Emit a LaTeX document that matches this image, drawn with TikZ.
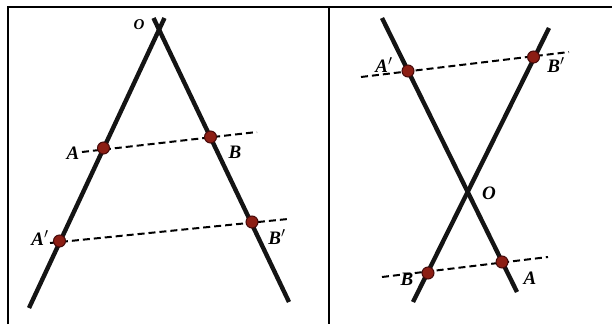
\documentclass[tikz,border=0pt]{standalone}
\usepackage{fontspec}
\setmainfont{Liberation Serif}
\definecolor{ptfill}{RGB}{140,30,20}
\definecolor{ptdraw}{RGB}{70,10,10}
\begin{document}
\begin{tikzpicture}[x=1pt,y=-1pt,
  frame/.style={line width=2pt,black},
  ray/.style={line width=4.4pt,black!92},
  par/.style={line width=2pt,black,dash pattern=on 7pt off 4pt},
  pt/.style={circle,inner sep=0pt,minimum size=12pt,fill=ptfill,draw=ptdraw,line width=1pt},
  lab/.style={font=\fontsize{19}{21}\selectfont\bfseries\itshape,inner sep=0pt},
  slab/.style={font=\fontsize{15}{17}\selectfont\bfseries\itshape,inner sep=0pt}]
\useasboundingbox (0,0) rectangle (612,324);
% frame
\coordinate (f1) at (8,324);
\coordinate (f2) at (8,7);
\coordinate (f3) at (612,7);
\coordinate (m1) at (329,7);
\coordinate (m2) at (329,324);
\draw[frame] (f1) -- (f2) -- (f3);
\draw[frame] (m1) -- (m2);
% ---------- left panel ----------
\coordinate (O1) at (159,30);
\coordinate (L1top) at (164.5,18);
\coordinate (L1bot) at (29,308);
\coordinate (R1top) at (153.5,18);
\coordinate (R1bot) at (289,302);
\draw[ray] (L1top) -- (L1bot);
\draw[ray] (R1top) -- (R1bot);
\coordinate (d1s) at (82,152);
\coordinate (d1e) at (257,132);
\coordinate (d2s) at (50,243);
\coordinate (d2e) at (288,219);
\draw[par] (d1s) -- (d1e);
\draw[par] (d2s) -- (d2e);
\node[pt] (A1) at (103.5,148) {};
\node[pt] (B1) at (210.5,137) {};
\node[pt] (Ap1) at (59.5,241) {};
\node[pt] (Bp1) at (252,222) {};
\node[slab] (lO1) at (139,25) {O};
\node[lab] (lA1) at (73,153) {A};
\node[lab] (lB1) at (235,152) {B};
\node[lab] (lAp1) at (40,238) {A$'$};
\node[lab] (lBp1) at (277,237) {B$'$};
% ---------- right panel ----------
\coordinate (P1top) at (382,18);
\coordinate (P1bot) at (517,292);
\coordinate (P2top) at (549,28);
\coordinate (P2bot) at (413,302);
\draw[ray] (P1top) -- (P1bot);
\draw[ray] (P2top) -- (P2bot);
\coordinate (O2) at (467.5,192);
\coordinate (e1s) at (361,77);
\coordinate (e1e) at (569,52);
\coordinate (e2s) at (382,277);
\coordinate (e2e) at (548,257);
\draw[par] (e1s) -- (e1e);
\draw[par] (e2s) -- (e2e);
\node[pt] (Ap2) at (408,71) {};
\node[pt] (Bp2) at (533.5,57) {};
\node[pt] (B2) at (428,273) {};
\node[pt] (A2) at (502,262) {};
\node[lab] (lAp2) at (384,65) {A$'$};
\node[lab] (lBp2) at (556,65) {B$'$};
\node[lab] (lO2) at (489,193) {O};
\node[lab] (lB2) at (407,279) {B};
\node[lab] (lA2) at (530,278) {A};
\end{tikzpicture}
\end{document}
